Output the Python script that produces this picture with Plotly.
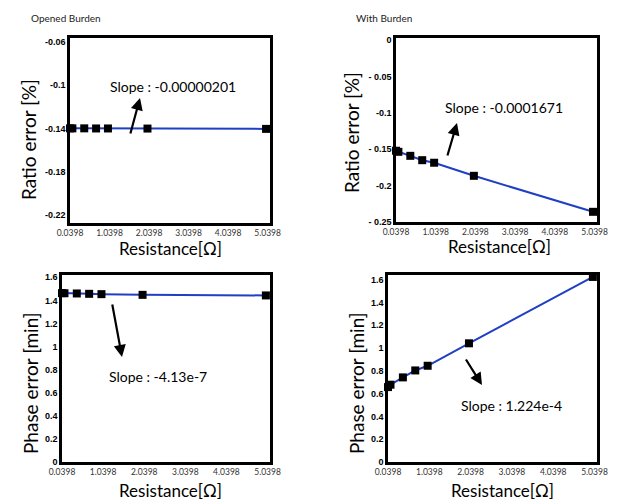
import plotly.graph_objects as go

W, H = 628, 501
OFF = 8  # page body margin offset

# ---- data ----
resistance = [0.0398, 0.1, 0.4, 0.7, 1.0, 2.0, 5.0]
ratio_open = [-0.1400, -0.1400, -0.1400, -0.1401, -0.1401, -0.1402, -0.1405]
ratio_with = [-0.152, -0.1535, -0.159, -0.165, -0.1685, -0.1865, -0.236]
phase_open = [1.463, 1.462, 1.460, 1.457, 1.454, 1.448, 1.443]
phase_with = [0.657, 0.678, 0.742, 0.803, 0.844, 1.041, 1.623]

x_ticks = [0.0398, 1.0398, 2.0398, 3.0398, 4.0398, 5.0398]
x_ticklabels = ["0.0398", "1.0398", "2.0398", "3.0398", "4.0398", "5.0398"]

tl_yticks = [-0.06, -0.1, -0.14, -0.18, -0.22]
tl_ylabels = ["-0.06", "-0.1", "-0.14", "-0.18", "-0.22"]
tr_yticks = [0, -0.05, -0.1, -0.15, -0.2, -0.25]
tr_ylabels = ["0", "- 0.05", "-0.1", "- 0.15", "-0.2", "- 0.25"]
ph_yticks = [0, 0.2, 0.4, 0.6, 0.8, 1.0, 1.2, 1.4, 1.6]
ph_ylabels = ["0", "0.2", "0.4", "0.6", "0.8", "1", "1.2", "1.4", "1.6"]

slopes = ["Slope : -0.00000201", "Slope : -0.0001671", "Slope : -4.13e-7", "Slope : 1.224e-4"]


def px(x):
    return (x - OFF) / W


def py(y):
    return 1 - (y - OFF) / H


panels = [
    # (series, x-domain px, y-domain px (top,bottom), yrange, yticks, ylabels)
    (ratio_open, (70, 270), (38, 223), [-0.228, -0.056], tl_yticks, tl_ylabels),
    (ratio_with, (396, 597), (38, 222), [-0.25, 0.003], tr_yticks, tr_ylabels),
    (phase_open, (62, 270), (275, 462), [0, 1.62], ph_yticks, ph_ylabels),
    (phase_with, (388, 597), (275, 462), [0, 1.64], ph_yticks, ph_ylabels),
]

fig = go.Figure()
layout = {}
FONT = "Lato, Liberation Sans, sans-serif"

for i, (ys, (x0, x1), (yt, yb), yr, ytk, ylb) in enumerate(panels):
    n = "" if i == 0 else str(i + 1)
    fig.add_trace(go.Scatter(
        x=resistance, y=ys, mode="lines+markers",
        line=dict(color="#1f3fc4", width=2),
        marker=dict(symbol="square", size=8, color="black"),
        cliponaxis=False, showlegend=False,
        xaxis="x" + n, yaxis="y" + n,
    ))
    layout["xaxis" + n] = dict(
        domain=[px(x0), px(x1)], anchor="y" + n, automargin=False,
        range=[0.0398, 5.1], tickvals=x_ticks, ticktext=x_ticklabels,
        showgrid=False, zeroline=False, showline=True, mirror=True,
        linecolor="black", linewidth=2.5, ticks="",
        tickfont=dict(family=FONT, size=8.5, color="#333333"),
    )
    layout["yaxis" + n] = dict(
        domain=[py(yb), py(yt)], anchor="x" + n, automargin=False,
        range=yr, tickvals=ytk, ticktext=ylb,
        showgrid=False, zeroline=False, showline=True, mirror=True,
        linecolor="black", linewidth=2.5, ticks="",
        tickfont=dict(family="Liberation Sans, Arial, sans-serif", size=9,
                      color="black", weight="bold"),
    )

annotations = []


def text(t, x, y, size, angle=0, color="black"):
    annotations.append(dict(
        text=t, x=px(x), y=py(y), xref="paper", yref="paper",
        showarrow=False, textangle=angle, xanchor="center", yanchor="middle",
        font=dict(family=FONT, size=size, color=color),
    ))


def arrow(tipx, tipy, tailx, taily):
    annotations.append(dict(
        text="", x=px(tipx), y=py(tipy), xref="paper", yref="paper",
        ax=tailx - tipx, ay=taily - tipy, axref="pixel", ayref="pixel",
        showarrow=True, arrowhead=2, arrowsize=1.1, arrowwidth=2.2,
        arrowcolor="black",
    ))


# panel titles
text("Opened Burden", 66, 18, 10, color="#222222")
text("With Burden", 384, 18, 10, color="#222222")

# axis titles
for (x, y) in [(170, 248), (499, 247), (170, 490), (502, 490)]:
    text("Resistance[Ω]", x, y, 17)
text("Ratio error [%]", 28, 140, 19, angle=-90)
text("Ratio error [%]", 352, 133, 19, angle=-90)
text("Phase error [min]", 30, 383, 19, angle=-90)
text("Phase error [min]", 356, 383, 19, angle=-90)

# slopes
text(slopes[0], 173, 87, 14)
text(slopes[1], 504, 108, 14)
text(slopes[2], 158, 376, 14)
text(slopes[3], 511, 405, 14)

arrow(140, 98, 130, 135)
arrow(457, 123, 447, 157)
arrow(122, 357, 112, 303)
arrow(482, 385, 465, 358)

fig.update_layout(
    width=W, height=H, margin=dict(l=0, r=0, t=0, b=0),
    paper_bgcolor="white", plot_bgcolor="white",
    annotations=annotations, **layout,
)

fig.write_html("out.html")
